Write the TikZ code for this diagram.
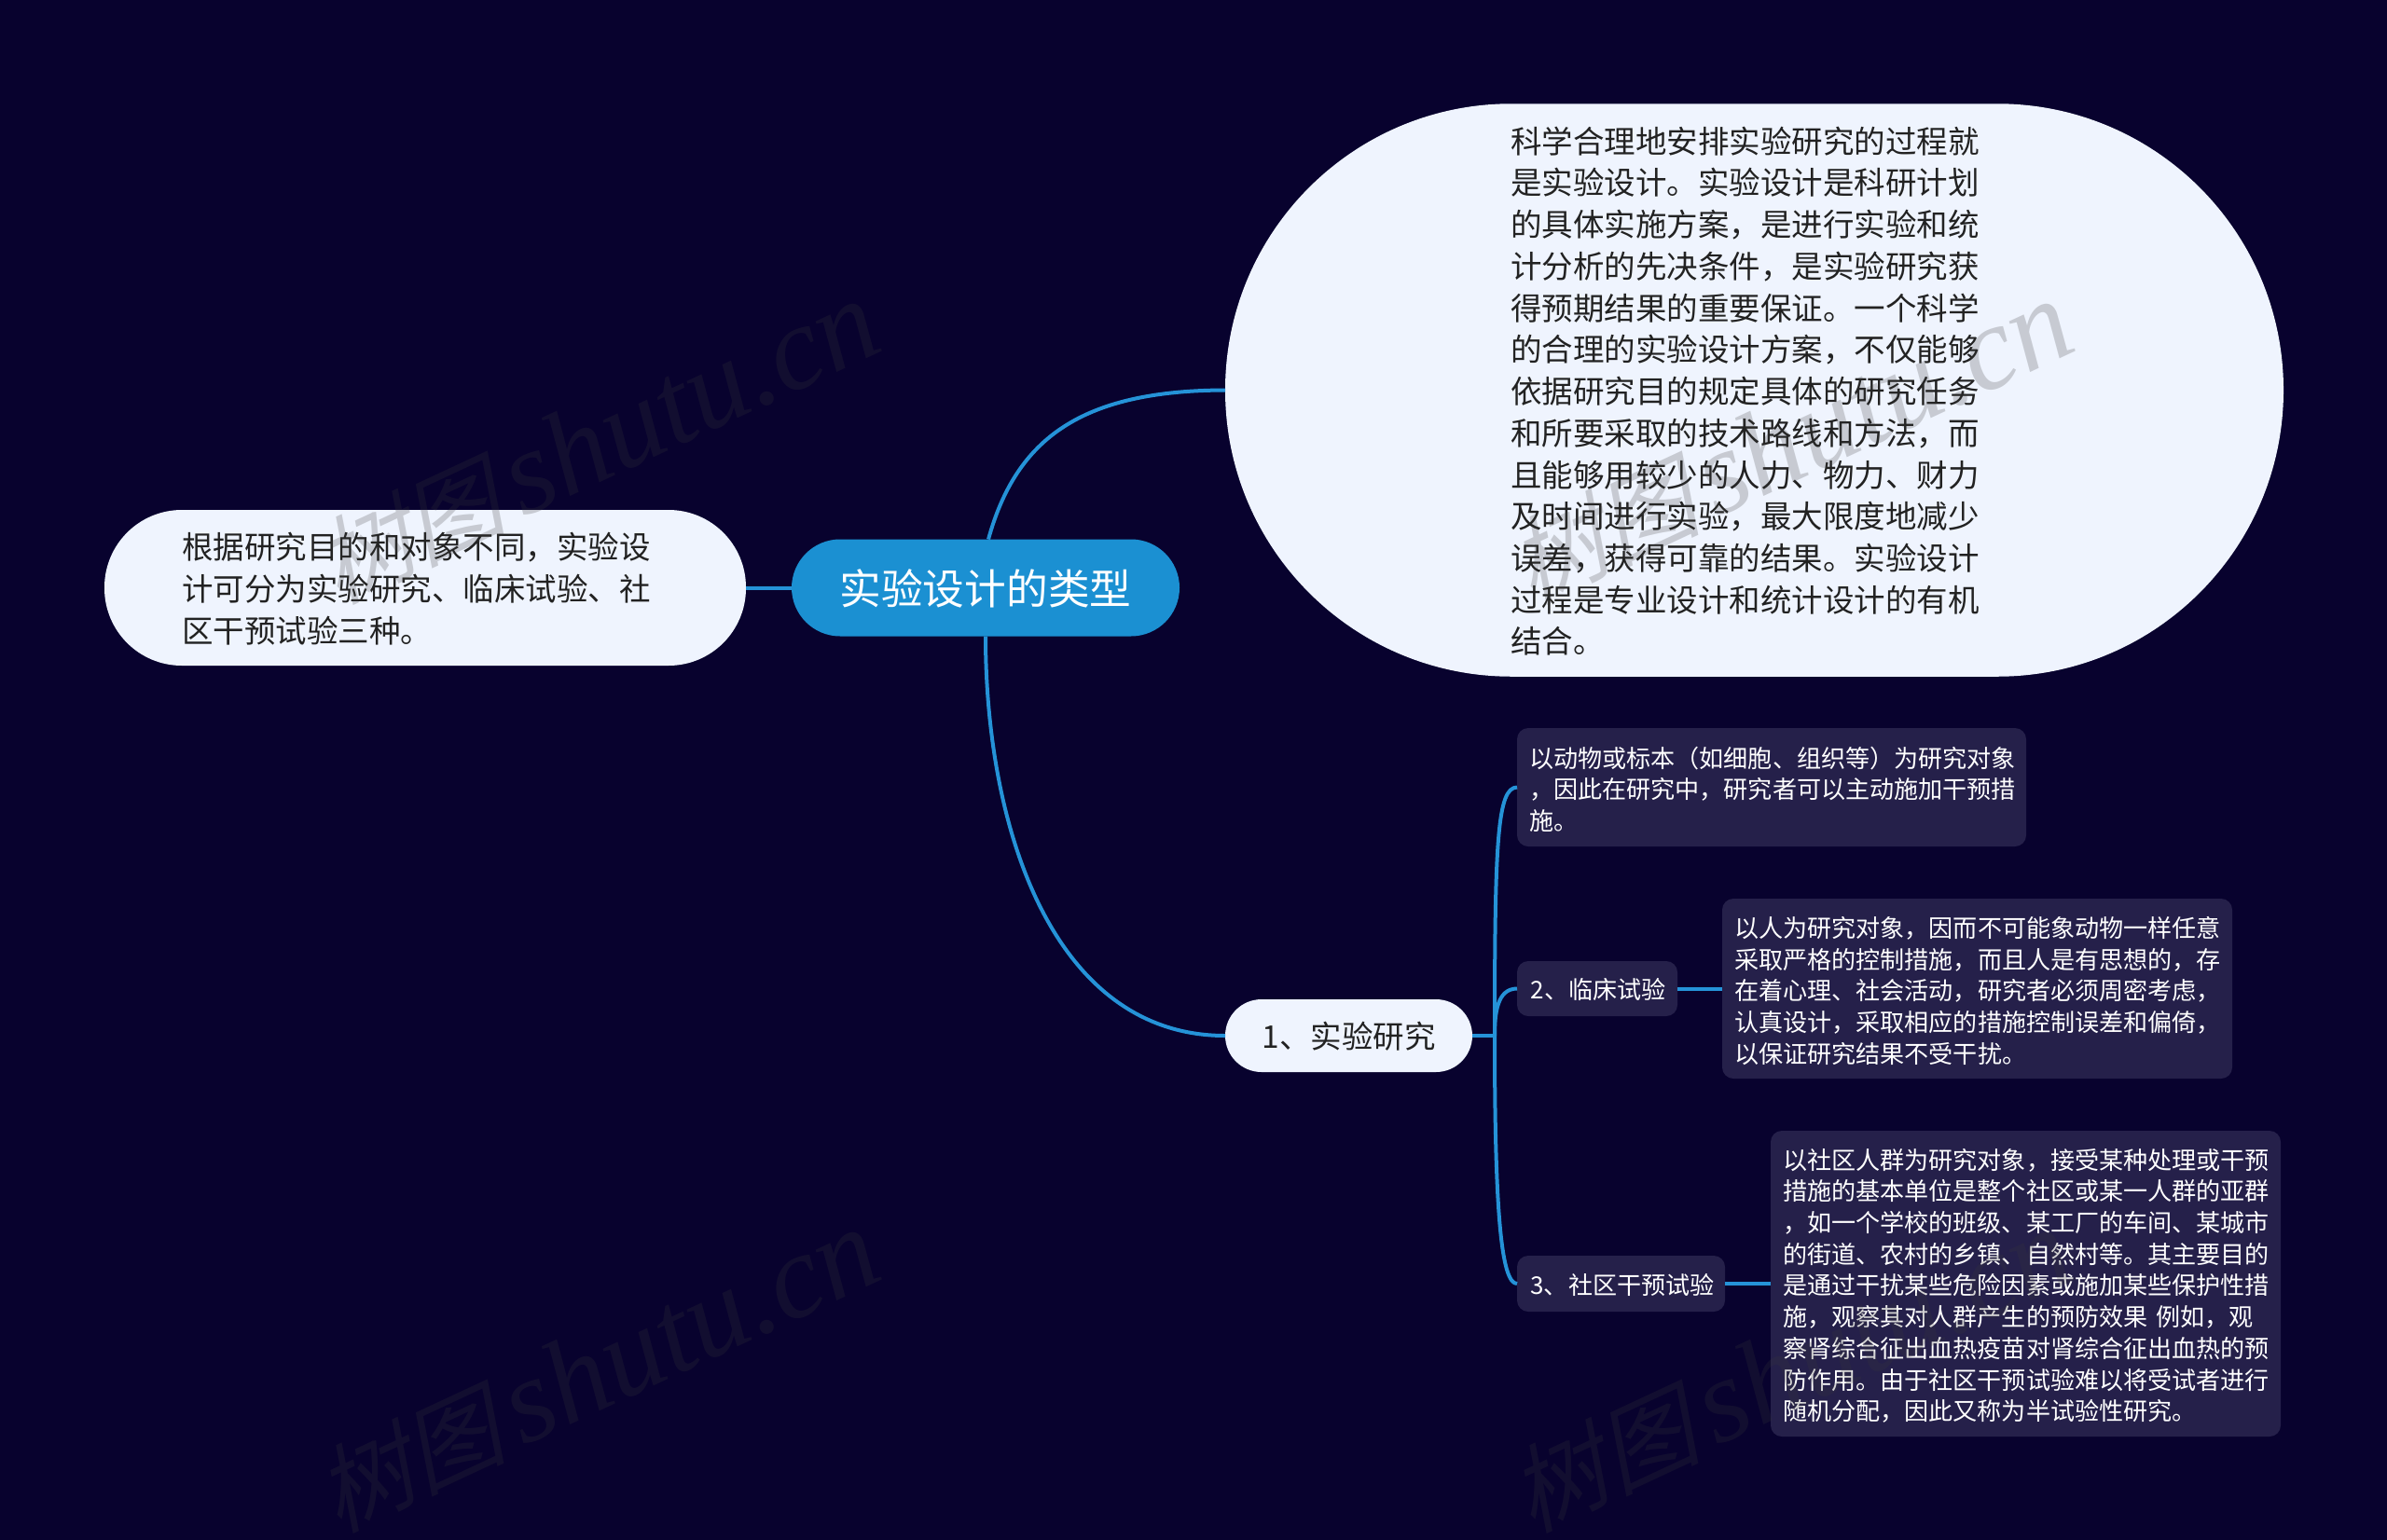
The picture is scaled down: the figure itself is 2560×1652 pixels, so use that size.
\documentclass[tikz,border=0pt]{standalone}
\usepackage{fontspec}
\setmainfont{Liberation Serif}
\newfontfamily\cjk{Noto Sans CJK SC}
\newfontfamily\wmcjk[FakeSlant=0.25]{Noto Sans CJK SC}
\definecolor{bgc}{HTML}{08022E}
\definecolor{lightc}{HTML}{EFF4FE}
\definecolor{darkc}{HTML}{25204A}
\definecolor{mainc}{HTML}{1B90D2}
\definecolor{linec}{HTML}{2593D8}
\definecolor{inkc}{HTML}{222222}
\definecolor{wmc}{HTML}{393939}
\tikzset{
  box/.style={inner ysep=0pt,outer sep=0pt,anchor=center},
  multi/.style={align=left,execute at begin node={\noindent\rule{0pt}{1.02em}}},
  bigmulti/.style={align=left,execute at begin node={\noindent\rule{0pt}{0.92em}}},
  big/.style={box,fill=lightc,text=inkc,font=\cjk\fontsize{33.5}{44.72}\selectfont},
  rootbox/.style={box,fill=mainc,text=white,text height=40pt,text depth=4pt,font=\cjk\fontsize{44.7}{54}\selectfont},
  small/.style={box,fill=darkc,text=white,rounded corners=12pt,inner xsep=13pt,font=\cjk\fontsize{26.1}{33.7}\selectfont},
  single/.style={text height=25pt,text depth=3pt},
  conn/.style={draw=linec,line width=4pt},
  wmark/.style={anchor=base east,inner sep=0pt,rotate=25,text=wmc,opacity=0.22,font=\fontsize{128}{128}\selectfont\itshape},
}
\newcommand{\wmtext}{{\wmcjk\fontsize{102}{102}\selectfont 树图}\hspace{16pt}shutu.cn}
\begin{document}
\begin{tikzpicture}[x=1pt,y=-1pt]
\path[use as bounding box,clip] (0,0) rectangle (2560,1652);
\fill[bgc] (0,0) rectangle (2560,1652);

\node[big,bigmulti,rounded corners=83pt,inner xsep=83pt,text width=522pt,minimum width=688pt,minimum height=167pt] (left) at (456,630.5)
  {根据研究目的和对象不同，实验设\\计可分为实验研究、临床试验、社\\区干预试验三种。};
\node[rootbox,rounded corners=52pt,minimum width=416pt,minimum height=104pt] (root) at (1057,630.5) {实验设计的类型};
\node[big,bigmulti,rounded corners=307pt,inner xsep=306pt,text width=523pt,minimum width=1135pt,minimum height=614.5pt] (intro) at (1881.5,418.5)
  {科学合理地安排实验研究的过程就\\是实验设计。实验设计是科研计划\\的具体实施方案，是进行实验和统\\计分析的先决条件，是实验研究获\\得预期结果的重要保证。一个科学\\的合理的实验设计方案，不仅能够\\依据研究目的规定具体的研究任务\\和所要采取的技术路线和方法，而\\且能够用较少的人力、物力、财力\\及时间进行实验，最大限度地减少\\误差，获得可靠的结果。实验设计\\过程是专业设计和统计设计的有机\\结合。};
\node[big,text height=30pt,text depth=3pt,rounded corners=39pt,minimum width=265pt,minimum height=78pt] (exp) at (1446.5,1111) {1、实验研究};

\node[small,multi,text width=520pt,minimum width=546pt,minimum height=127pt] (t1) at (1900,844.5)
  {以动物或标本（如细胞、组织等）为研究对象\\，因此在研究中，研究者可以主动施加干预措\\施。};
\node[small,single,inner xsep=0pt,minimum width=172pt,minimum height=59pt] (n2) at (1713,1060.5) {\hspace{2pt}2、临床试验};
\node[small,multi,text width=521pt,minimum width=547pt,minimum height=193pt] (t2) at (2120.5,1060.5)
  {以人为研究对象，因而不可能象动物一样任意\\采取严格的控制措施，而且人是有思想的，存\\在着心理、社会活动，研究者必须周密考虑，\\认真设计，采取相应的措施控制误差和偏倚，\\以保证研究结果不受干扰。};
\node[small,single,inner xsep=0pt,minimum width=223pt,minimum height=60pt] (n3) at (1738.5,1377) {\hspace{3pt}3、社区干预试验};
\node[small,multi,text width=521pt,minimum width=547pt,minimum height=328pt] (t3) at (2172.5,1377)
  {以社区人群为研究对象，接受某种处理或干预\\措施的基本单位是整个社区或某一人群的亚群\\，如一个学校的班级、某工厂的车间、某城市\\的街道、农村的乡镇、自然村等。其主要目的\\是通过干扰某些危险因素或施加某些保护性措\\施，观察其对人群产生的预防效果 例如，观\\察肾综合征出血热疫苗对肾综合征出血热的预\\防作用。由于社区干预试验难以将受试者进行\\随机分配，因此又称为半试验性研究。};

\coordinate (trunk) at (1603,1111);
\coordinate (rootup) at (1060,578.5);
\path[conn] (root.west) -- (left.east);
\path[conn] (rootup) .. controls (1090,470) and (1160,419) .. (intro.west);
\path[conn] (root.south) .. controls (1057,890) and (1130,1111) .. (exp.west);
\path[conn] (exp.east) -- (trunk);
\path[conn] (trunk) .. controls (1603,900) and (1606,845) .. (t1.west);
\path[conn] (trunk) .. controls (1603,1086) and (1606,1060.5) .. (n2.west);
\path[conn] (trunk) .. controls (1603,1300) and (1610,1377) .. (n3.west);
\path[conn] (n2.east) -- (t2.west);
\path[conn] (n3.east) -- (t3.west);

\node[wmark] (w1) at (952,374) {\wmtext};
\node[wmark] (w2) at (2232,374) {\wmtext};
\node[wmark] (w3) at (952,1370) {\wmtext};
\node[wmark] (w4) at (2232,1370) {\wmtext};
\end{tikzpicture}
\end{document}
